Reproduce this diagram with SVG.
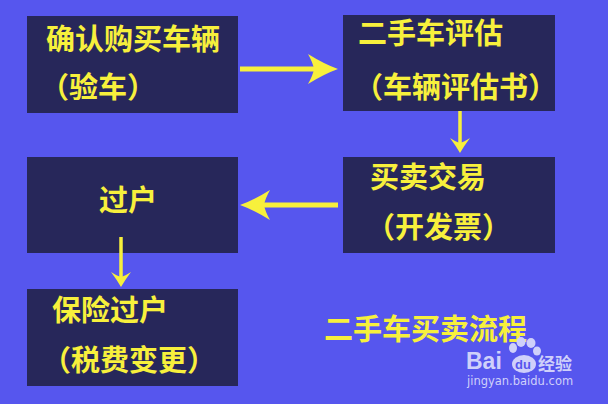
<svg xmlns="http://www.w3.org/2000/svg" width="608" height="404" viewBox="0 0 608 404">
<defs>
<style>
.box{fill:#27275a;}
.t{font-family:"Noto Sans CJK SC","Noto Sans CJK JP",sans-serif;font-size:29px;font-weight:bold;fill:#f7f03c;}
.ln{stroke:#f7f03c;fill:none;}
.wm{fill:#cfd0fa;}
</style>
<marker id="bigHead" viewBox="-7 -16 32 32" refX="0" refY="0" markerWidth="32" markerHeight="32" markerUnits="userSpaceOnUse" orient="auto">
<path d="M24,0 Q10,-5 -6,-15 Q-1,-6 0,0 Q-1,6 -6,15 Q10,5 24,0 Z" fill="#f7f03c"/>
</marker>
<marker id="smallHead" viewBox="-6 -11 18 22" refX="0" refY="0" markerWidth="18" markerHeight="22" markerUnits="userSpaceOnUse" orient="auto">
<path d="M10,0 Q3,-4 -5,-10 Q-1,-4 0,0 Q-1,4 -5,10 Q3,4 10,0 Z" fill="#f7f03c"/>
</marker>
</defs>
<rect width="608" height="404" fill="#5656ee"/>

<g id="node-confirm">
<rect class="box" x="27" y="16" width="211" height="97"/>
<text class="t" x="46" y="50">确认购买车辆</text>
<text class="t" x="40" y="98">（验车）</text>
</g>

<g id="node-evaluate">
<rect class="box" x="343" y="15" width="212" height="96"/>
<text class="t" x="358" y="44">二手车评估</text>
<text class="t" x="354" y="98">（车辆评估书）</text>
</g>

<g id="node-trade">
<rect class="box" x="343" y="157" width="212" height="96"/>
<text class="t" x="370" y="188">买卖交易</text>
<text class="t" x="366" y="238">（开发票）</text>
</g>

<g id="node-transfer">
<rect class="box" x="27" y="157" width="211" height="96"/>
<text class="t" x="99" y="211">过户</text>
</g>

<g id="node-insurance">
<rect class="box" x="27" y="289" width="211" height="97"/>
<text class="t" x="52" y="321">保险过户</text>
<text class="t" x="42" y="371">（税费变更）</text>
</g>

<g id="connectors">
<line class="ln" x1="240" y1="69" x2="314" y2="69" stroke-width="5" marker-end="url(#bigHead)"/>
<line class="ln" x1="460" y1="111" x2="460" y2="143" stroke-width="3.5" marker-end="url(#smallHead)"/>
<line class="ln" x1="338" y1="205" x2="264" y2="205" stroke-width="5" marker-end="url(#bigHead)"/>
<line class="ln" x1="121" y1="237" x2="121" y2="277" stroke-width="3.5" marker-end="url(#smallHead)"/>
</g>

<text id="title" class="t" x="324" y="340">二手车买卖流程</text>

<g id="watermark">
<text class="wm" x="466" y="369" font-family="Liberation Sans, Arial, sans-serif" font-size="23" font-weight="bold">Bai</text>
<ellipse class="wm" cx="513" cy="348" rx="4" ry="5"/>
<ellipse class="wm" cx="521" cy="342" rx="4.5" ry="5"/>
<ellipse class="wm" cx="531" cy="343" rx="4.5" ry="5"/>
<ellipse class="wm" cx="537" cy="351" rx="4" ry="4.5"/>
<ellipse class="wm" cx="524" cy="364" rx="12" ry="9"/>
<text x="515" y="369" font-family="Liberation Sans, Arial, sans-serif" font-size="13" font-weight="bold" fill="#5656ee">du</text>
<text class="wm" x="538" y="370" font-family="Noto Sans CJK SC, sans-serif" font-size="17" font-weight="bold">经验</text>
<text class="wm" x="467" y="385" font-family="DejaVu Sans, sans-serif" font-size="11.5">jingyan.baidu.com</text>
</g>
</svg>
